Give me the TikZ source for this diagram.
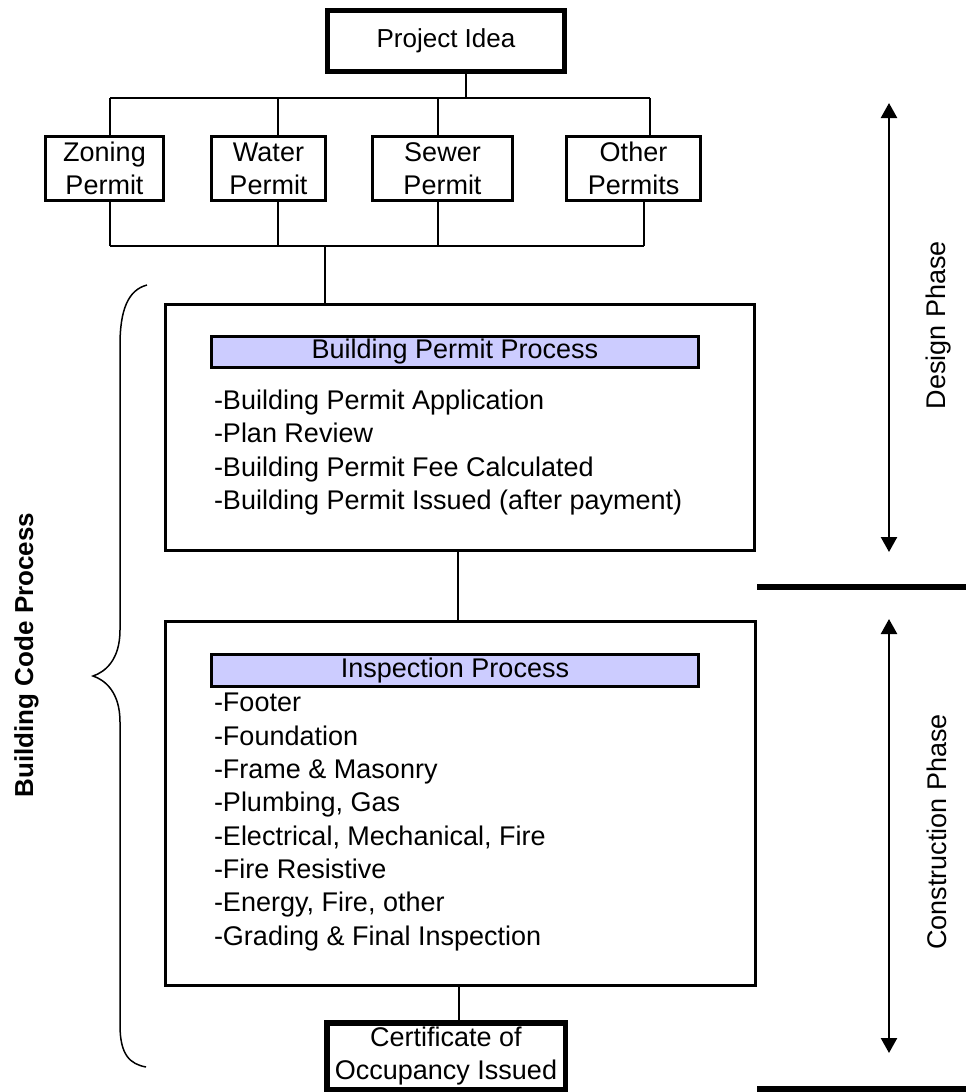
\documentclass[tikz,border=0pt]{standalone}
\usepackage{fontspec}
\setmainfont{Liberation Sans}
\usetikzlibrary{arrows.meta}
\definecolor{hdrfill}{HTML}{CCCCFF}
\begin{document}
\begin{tikzpicture}[x=1bp,y=-1bp,
  every node/.style={inner sep=0pt, outer sep=0pt, font=\fontsize{27bp}{33.3bp}\selectfont},
  thickbox/.style={draw, line width=5bp, align=center},
  permitbox/.style={draw, line width=2.8bp, align=center},
  bigbox/.style={draw, line width=3.2bp},
  hdrbar/.style={draw, line width=3bp, fill=hdrfill},
  conn/.style={line width=1.5bp},
  phasearrow/.style={line width=2.4bp, {Triangle[length=15bp,width=16bp]}-{Triangle[length=15bp,width=16bp]}},
  sepbar/.style={line width=6bp},
  sidelabel/.style={rotate=90, anchor=base},
]
\useasboundingbox (0,0) rectangle (966,1092);

% top
\node[thickbox, minimum width=237bp, minimum height=61bp, font=\fontsize{26bp}{32bp}\selectfont] (idea) at (446,41) {Project Idea};

\node[permitbox, minimum width=118.2bp, minimum height=64.2bp] (zon) at (104.5,168.5) {Zoning\\Permit};
\node[permitbox, minimum width=114.2bp, minimum height=64.2bp] (wat) at (268.5,168.5) {Water\\Permit};
\node[permitbox, minimum width=140.2bp, minimum height=64.2bp] (sew) at (442.5,168.5) {Sewer\\Permit};
\node[permitbox, minimum width=134.2bp, minimum height=64.2bp] (oth) at (633.5,168.5) {Other\\Permits};

\coordinate (busTL) at (110,98);
\coordinate (busTW) at (278,98);
\coordinate (busTM) at (466,98);
\coordinate (busTS) at (438,98);
\coordinate (busTR) at (650,98);
\draw[conn] (idea.south -| busTM) -- (busTM);
\draw[conn] (busTL) -- (busTR);
\draw[conn] (busTL) -- (zon.north -| busTL);
\draw[conn] (busTW) -- (wat.north -| busTW);
\draw[conn] (busTS) -- (sew.north -| busTS);
\draw[conn] (busTR) -- (oth.north -| busTR);

\coordinate (busBL) at (110,246);
\coordinate (busBW) at (278,246);
\coordinate (busBS) at (438,246);
\coordinate (busBR) at (644,246);
\coordinate (busBM) at (325,246);
\draw[conn] (busBL) -- (busBR);
\draw[conn] (zon.south -| busBL) -- (busBL);
\draw[conn] (wat.south -| busBW) -- (busBW);
\draw[conn] (sew.south -| busBS) -- (busBS);
\draw[conn] (oth.south -| busBR) -- (busBR);

% building permit process
\node[bigbox, minimum width=588.8bp, minimum height=245.8bp] (bpp) at (460,427.5) {};
\node[hdrbar, minimum width=487bp, minimum height=31bp] (bph) at (455,352) {Building Permit Process};
\node[anchor=west, align=left] (bpl) at (214,452.5) {-Building Permit Application\\-Plan Review\\-Building Permit Fee Calculated\\-Building Permit Issued (after payment)};
\draw[conn] (busBM) -- (bpp.north -| busBM);

% inspection process
\node[bigbox, minimum width=589.8bp, minimum height=363.8bp] (insp) at (460.5,803.5) {};
\node[hdrbar, minimum width=487bp, minimum height=32bp] (insh) at (455,670.5) {Inspection Process};
\node[anchor=west, align=left] (insl) at (214,822) {-Footer\\-Foundation\\-Frame \& Masonry\\-Plumbing, Gas\\-Electrical, Mechanical, Fire\\-Fire Resistive\\-Energy, Fire, other\\-Grading \& Final Inspection};
\coordinate (c2) at (458,585);
\draw[conn] (bpp.south -| c2) -- (insp.north -| c2);

% certificate
\node[thickbox, line width=5.5bp, minimum width=238.5bp, minimum height=66.5bp] (cert) at (446,1056) {Certificate of\\Occupancy Issued};
\coordinate (c3) at (459,1000);
\draw[conn] (insp.south -| c3) -- (cert.north -| c3);

% brace
\draw[line width=1.5bp] (147,285) .. controls (128,290) and (120,310) .. (120,345) -- (120,630) .. controls (120,660) and (105,672) .. (93,676) .. controls (105,680) and (120,692) .. (120,722) -- (120,1025) .. controls (120,1055) and (130,1064) .. (146,1067);
\node[sidelabel, font=\fontsize{26bp}{31bp}\selectfont\bfseries] (bcp) at (33,655) {Building Code Process};

% phases
\coordinate (dTop) at (889,103);
\coordinate (dBot) at (889,552);
\draw[phasearrow] (dTop) -- (dBot);
\node[sidelabel] (dlab) at (945,325) {Design Phase};

\coordinate (cTop) at (889,619);
\coordinate (cBot) at (889,1053);
\draw[phasearrow] (cTop) -- (cBot);
\node[sidelabel] (clab) at (946,832) {Construction Phase};

\coordinate (s1a) at (757,587);
\coordinate (s1b) at (966,587);
\draw[sepbar] (s1a) -- (s1b);
\coordinate (s2a) at (757,1089);
\coordinate (s2b) at (966,1089);
\draw[sepbar] (s2a) -- (s2b);
\end{tikzpicture}
\end{document}
